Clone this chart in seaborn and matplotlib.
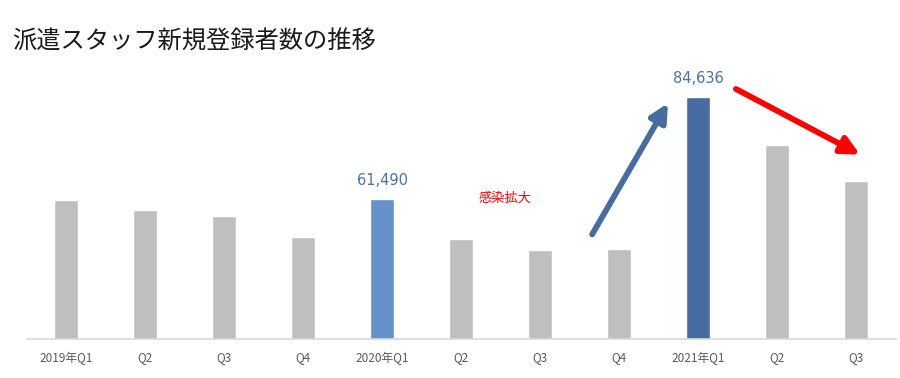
import matplotlib
matplotlib.use("Agg")
import matplotlib.pyplot as plt
import seaborn as sns
import pandas as pd

categories = ["2019年Q1", "Q2", "Q3", "Q4", "2020年Q1", "Q2 ", "Q3 ", "Q4 ", "2021年Q1", "Q2  ", "Q3  "]
values = [61300, 59000, 57700, 52950, 61490, 52500, 50030, 50260, 84636, 73850, 65540]
bar_colors = ["#BFBFBF", "#BFBFBF", "#BFBFBF", "#BFBFBF", "#6391C8",
              "#BFBFBF", "#BFBFBF", "#BFBFBF", "#476CA1", "#BFBFBF", "#BFBFBF"]
labeled = {4: "61,490", 8: "84,636"}
title = "派遣スタッフ新規登録者数の推移"
note = "感染拡大"

sns.set_theme(style="white")
plt.rcParams["font.family"] = ["Noto Sans CJK JP", "DejaVu Sans"]

df = pd.DataFrame({"cat": categories, "val": values})

fig = plt.figure(figsize=(9, 3.78), dpi=100)
ax = fig.add_axes([26.5 / 900, 39 / 378, 869 / 900, (339 - 73) / 378])
sns.barplot(data=df, x="cat", y="val", hue="cat", palette=bar_colors,
            legend=False, width=0.3, ax=ax, saturation=1)

ax.set_xlim(-0.5, 10.5)
ax.set_ylim(30000, 90000)
ax.set_xlabel("")
ax.set_ylabel("")
ax.set_yticks([])
for s in ["top", "right", "left"]:
    ax.spines[s].set_visible(False)
ax.spines["bottom"].set_color("#D9D9D9")
ax.spines["bottom"].set_linewidth(1.2)
ax.tick_params(axis="x", length=0, pad=9, labelsize=8.5, labelcolor="#595959")
ax.set_xticks(range(len(categories)))
ax.set_xticklabels([c.strip() for c in categories])

for i, lab in labeled.items():
    ax.annotate(lab, (i, values[i]), xytext=(0, 8), textcoords="offset points",
                ha="center", va="bottom", fontsize=10.5, color="#4A72A6",
                family=["DejaVu Sans"])

ax.text(5.56, 61700, note, color="#FF0000", fontsize=9.5, ha="center", va="center")

ax.annotate("", xy=(7.62, 83200), xytext=(6.66, 53600),
            arrowprops=dict(arrowstyle="-|>,head_length=0.9,head_width=0.45",
                            color="#466CA0", lw=4.2, shrinkA=0, shrinkB=0),
            annotation_clip=False)
ax.annotate("", xy=(10.05, 71600), xytext=(8.48, 86400),
            arrowprops=dict(arrowstyle="-|>,head_length=0.9,head_width=0.45",
                            color="#FF0000", lw=4.2, shrinkA=0, shrinkB=0),
            annotation_clip=False)

fig.text(12 / 900, 1 - 42 / 378, title, fontsize=17.5, color="#1A1A1A",
         ha="left", va="center")

fig.savefig("out.png", dpi=100)
